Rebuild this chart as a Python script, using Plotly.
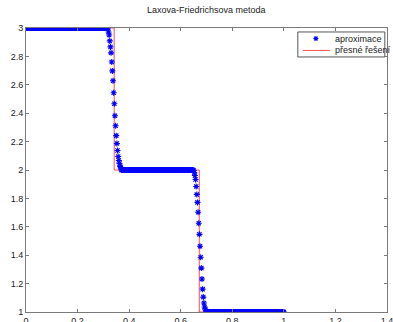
import numpy as np
import plotly.graph_objects as go

# Lax-Friedrichs solution on a uniform grid of [0, 1]
dx = 0.0025
left_state, middle_state, right_state = 3.0, 2.0, 1.0
n_left, n_middle, n_right = 128, 112, 121

# smeared values across the first and second discontinuity
shock1_vals = [2.972, 2.951, 2.909, 2.867, 2.825, 2.761, 2.698, 2.628, 2.544, 2.467,
               2.382, 2.312, 2.242, 2.186, 2.137, 2.095, 2.067, 2.046, 2.025, 2.018]
shock2_vals = [1.996, 1.982, 1.961, 1.933, 1.884, 1.828, 1.772, 1.702, 1.625, 1.547,
               1.463, 1.386, 1.309, 1.232, 1.161, 1.105, 1.063, 1.035, 1.021, 1.007]

# exact (piecewise constant) solution
exact_x = [0.0, 0.342, 0.342, 0.672, 0.672, 1.0]
exact_y = [3.0, 3.0, 2.0, 2.0, 1.0, 1.0]

approx_y = ([left_state] * n_left + shock1_vals + [middle_state] * n_middle
            + shock2_vals + [right_state] * n_right)
approx_x = np.arange(len(approx_y)) * dx

legend_labels = ["aproximace", "přesné řešení"]

font_family = "Liberation Sans, Arial, Helvetica, sans-serif"
axis_col = "#7a7a7a"
blue = "#0000ff"
red = "#ff2020"

fig = go.Figure()
fig.add_trace(go.Scatter(
    x=exact_x, y=exact_y, mode="lines", name=legend_labels[1],
    line=dict(color=red, width=0.8), showlegend=False,
))
fig.add_trace(go.Scatter(
    x=approx_x, y=approx_y, mode="markers", name=legend_labels[0],
    marker=dict(symbol="asterisk-open", size=5, color=blue,
                line=dict(color=blue, width=1.1)),
    showlegend=False,
))

axis_common = dict(
    showgrid=False, zeroline=False, showline=True, linecolor=axis_col, linewidth=1,
    mirror="ticks", ticks="inside", ticklen=3, tickcolor=axis_col, tickwidth=1,
    tickfont=dict(family=font_family, size=9, color="#222222"), automargin=False,
    ticklabeloverflow="allow",
)

# compact boxed legend in the upper-right corner (paper coordinates)
box = dict(x0=0.753, x1=0.994, y0=0.898, y1=0.986)
row_y = [0.963, 0.921]
shapes = [
    dict(type="rect", xref="paper", yref="paper", **box,
         fillcolor="white", line=dict(color="#555555", width=1), layer="above"),
    dict(type="path", xref="paper", yref="paper", xsizemode="pixel", ysizemode="pixel",
         xanchor=0.803, yanchor=row_y[0],
         path="M-2.5,0H2.5M0,-2.5V2.5M-1.8,-1.8L1.8,1.8M-1.8,1.8L1.8,-1.8",
         line=dict(color=blue, width=1.1), layer="above"),
    dict(type="line", xref="paper", yref="paper", x0=0.767, x1=0.842,
         y0=row_y[1], y1=row_y[1], line=dict(color=red, width=0.8), layer="above"),
]
annotations = [
    dict(text=label, xref="paper", yref="paper", x=0.850, y=yy, xanchor="left",
         yanchor="middle", showarrow=False,
         font=dict(family=font_family, size=9, color="#222222"))
    for label, yy in zip(legend_labels, row_y)
]

fig.update_layout(
    width=393, height=322,
    margin=dict(l=26, r=6, t=28, b=10),
    paper_bgcolor="white", plot_bgcolor="white",
    template="none",
    title=dict(text="Laxova-Friedrichsova metoda", x=0.525, xanchor="center",
               y=1 - 10 / 322, yanchor="middle", yref="container",
               font=dict(family=font_family, size=9, color="#222222")),
    xaxis=dict(range=[0, 1.4], tickvals=[0, 0.2, 0.4, 0.6, 0.8, 1.0, 1.2, 1.4],
               ticktext=["0", "0.2", "0.4", "0.6", "0.8", "1", "1.2", "1.4"], **axis_common),
    yaxis=dict(range=[1, 3], tickvals=[1, 1.2, 1.4, 1.6, 1.8, 2, 2.2, 2.4, 2.6, 2.8, 3],
               ticktext=["1", "1.2", "1.4", "1.6", "1.8", "2", "2.2", "2.4", "2.6", "2.8", "3"],
               **axis_common),
    showlegend=False,
    shapes=shapes,
    annotations=annotations,
)

fig.write_html("out.html")
